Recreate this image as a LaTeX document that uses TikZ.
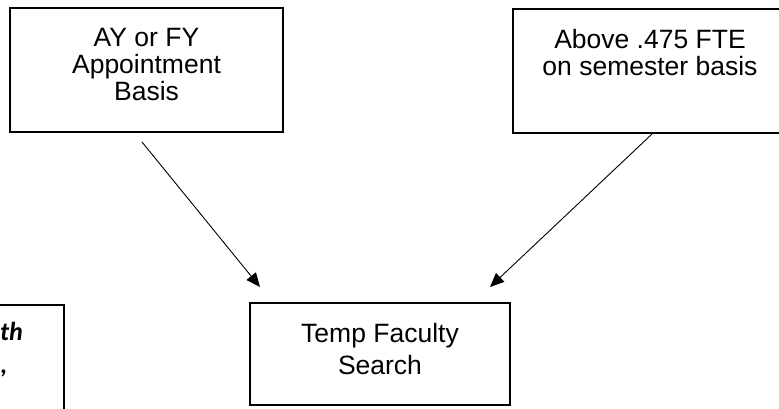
\documentclass[tikz,border=0pt]{standalone}
\usepackage{fontspec}
\setmainfont{Liberation Sans}
\newfontfamily\notefont{Carlito}
\usetikzlibrary{arrows.meta}
\newcommand{\padbelow}[1]{\rule[-#1]{0pt}{#1}}

\begin{document}
\begin{tikzpicture}[x=1pt,y=-1pt,
    box/.style={draw,line width=1.8pt,align=center,inner sep=0pt,
      font=\fontsize{26.5}{27}\selectfont},
    link/.style={line width=0.9pt,-{Triangle[length=14pt,width=12pt]}},
    notetext/.style={inner sep=0pt,
      font=\notefont\bfseries\itshape\fontsize{26}{30}\selectfont}]
    \useasboundingbox (0,0) rectangle (779,409);
    \clip (0,0) rectangle (779,409);
    \node[box,minimum width=273,minimum height=124] (ay) at (146.5,70) {AY or FY\\Appointment\\Basis\padbelow{11pt}};
    \node[box,minimum width=274,minimum height=124] (fte) at (650,71) {Above .475 FTE\\on semester basis\padbelow{38pt}};
    \node[box,minimum width=260,minimum height=102,font=\fontsize{26.5}{32}\selectfont] (tfs) at (380,354) {Temp Faculty\\Search\padbelow{11pt}};
    \node[box,anchor=north east,minimum width=200,minimum height=200] (note) at (65,304) {};
    \node[notetext,anchor=base east] (noteth) at (23,340) {th};
    \node[notetext,anchor=base west] (notecomma) at (0.5,373) {,};
    \coordinate (ayfoot) at (142,142);
    \coordinate (ayhead) at (260,287);
    \coordinate (ftefoot) at (652,134);
    \coordinate (ftehead) at (490,287);
    \draw[link] (ayfoot) to (ayhead);
    \draw[link] (ftefoot) to (ftehead);
\end{tikzpicture}
\end{document}
